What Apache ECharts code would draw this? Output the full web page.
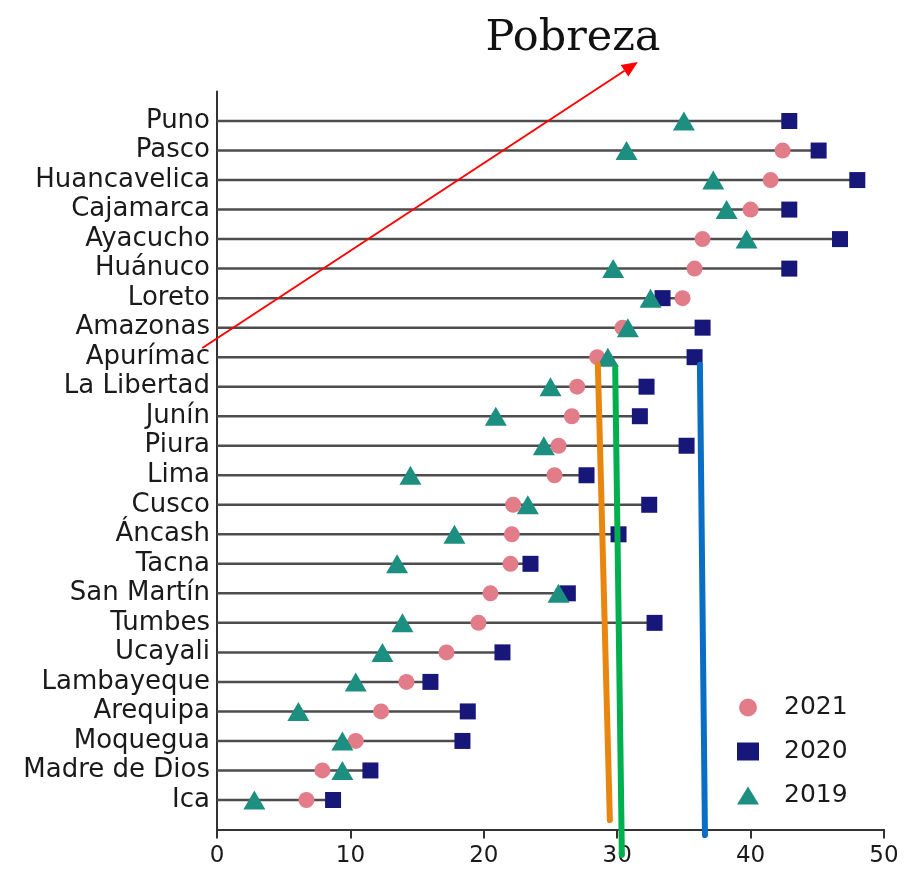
<!DOCTYPE html>
<html>
<head>
<meta charset="utf-8">
<script src="https://cdn.jsdelivr.net/npm/echarts@6/dist/echarts.min.js"></script>
<style>
  html, body { margin: 0; padding: 0; background: #fff; }
  #chart { width: 907px; height: 873px; }
</style>
</head>
<body>
<div id="chart"></div>
<script>
const regions = [
  "Puno", "Pasco", "Huancavelica", "Cajamarca", "Ayacucho", "Huánuco", "Loreto", "Amazonas",
  "Apurímac", "La Libertad", "Junín", "Piura", "Lima", "Cusco", "Áncash", "Tacna",
  "San Martín", "Tumbes", "Ucayali", "Lambayeque", "Arequipa", "Moquegua", "Madre de Dios", "Ica",
];
const pov2021 = [42.9, 42.4, 41.5, 40.0, 36.4, 35.8, 34.9, 30.4, 28.5, 27.0, 26.6, 25.6, 25.3, 22.2, 22.1, 22.0, 20.5, 19.6, 17.2, 14.2, 12.3, 10.4, 7.9, 6.7];
const pov2020 = [42.9, 45.1, 48.0, 42.9, 46.7, 42.9, 33.4, 36.4, 35.8, 32.2, 31.7, 35.2, 27.7, 32.4, 30.1, 23.5, 26.3, 32.8, 21.4, 16.0, 18.8, 18.4, 11.5, 8.7];
const pov2019 = [35.0, 30.7, 37.2, 38.2, 39.7, 29.7, 32.5, 30.8, 29.3, 25.0, 20.9, 24.5, 14.5, 23.3, 17.8, 13.5, 25.6, 13.9, 12.4, 10.4, 6.1, 9.4, 9.4, 2.8];
const xTicks = [0, 10, 20, 30, 40, 50];

// hand-drawn annotations, in data units: [x value, row position] (row 1 = Puno, 24 = Ica)
const orangeMark = [[28.55, 9.26], [29.45, 24.68]];
const greenMark = [[29.85, 9.37], [30.35, 25.86]];
const blueMark = [[36.2, 9.26], [36.58, 25.19]];
const redArrow = [[-1.1, 8.69], [31.55, -1.0]];

const chart = echarts.init(document.getElementById("chart"));
const font = "DejaVu Sans";

// pad the category axis with one empty slot above and below
const axisCats = [""].concat(regions, [" "]);
const stems = ["-"].concat(regions.map((_, i) => Math.max(pov2021[i], pov2020[i], pov2019[i])), ["-"]);
const points = (values) => values.map((v, i) => [v, i + 1]);

chart.setOption({
  animation: false,
  title: {
    text: "Pobreza",
    left: 568,
    top: 12,
    textAlign: "center",
    textStyle: { fontFamily: "DejaVu Serif", fontSize: 43, fontWeight: "normal", color: "#111" },
  },
  legend: {
    data: ["2021", "2020", "2019"],
    orient: "vertical",
    left: 732,
    top: 690,
    itemWidth: 22,
    itemHeight: 18,
    itemGap: 19,
    textStyle: { fontFamily: font, fontSize: 25, color: "#1a1a1a", padding: [0, 0, 0, 20] },
  },
  grid: { left: 217, right: 23, top: 91.5, bottom: 43.5 },
  xAxis: {
    type: "value",
    min: xTicks[0],
    max: xTicks[xTicks.length - 1],
    interval: 10,
    axisLine: { show: true, lineStyle: { color: "#333", width: 2 } },
    axisTick: { show: true, length: 9, lineStyle: { color: "#333", width: 2 } },
    axisLabel: { fontFamily: font, fontSize: 23, color: "#1a1a1a", margin: 15 },
    splitLine: { show: false },
  },
  yAxis: {
    type: "category",
    inverse: true,
    boundaryGap: false,
    data: axisCats,
    axisLine: { show: true, lineStyle: { color: "#333", width: 2 } },
    axisTick: { show: false },
    axisLabel: { fontFamily: font, fontSize: 26, color: "#1a1a1a", margin: 7, interval: 0 },
    splitLine: { show: false },
  },
  series: [
    {
      name: "stem",
      type: "bar",
      data: stems,
      barWidth: 2.5,
      itemStyle: { color: "#4d4d4d" },
      silent: true,
      z: 1,
    },
    {
      name: "2021",
      type: "scatter",
      data: points(pov2021),
      symbol: "circle",
      symbolSize: 16,
      itemStyle: { color: "#e27c88", opacity: 1 },
      z: 2,
    },
    {
      name: "2020",
      type: "scatter",
      data: points(pov2020),
      symbol: "rect",
      symbolSize: 16,
      itemStyle: { color: "#17177a", opacity: 1 },
      z: 3,
    },
    {
      name: "2019",
      type: "scatter",
      data: points(pov2019),
      symbol: "triangle",
      symbolSize: [22, 19],
      itemStyle: { color: "#1d8f80", opacity: 1 },
      z: 4,
    },
  ],
});

function toPixel([x, row]) {
  const px = chart.convertToPixel({ xAxisIndex: 0 }, x);
  const y0 = chart.convertToPixel({ yAxisIndex: 0 }, 0);
  const y1 = chart.convertToPixel({ yAxisIndex: 0 }, 1);
  return [px, y0 + row * (y1 - y0)];
}

function markLine(mark, color) {
  const [a, b] = mark.map(toPixel);
  return {
    type: "line",
    shape: { x1: a[0], y1: a[1], x2: b[0], y2: b[1] },
    style: { stroke: color, lineWidth: 6, lineCap: "round" },
    z: 100,
  };
}

const [arrowStart, arrowEnd] = redArrow.map(toPixel);
const ang = Math.atan2(arrowEnd[1] - arrowStart[1], arrowEnd[0] - arrowStart[0]);
const headLen = 16;
const headHalf = 7;
const baseX = arrowEnd[0] - headLen * Math.cos(ang);
const baseY = arrowEnd[1] - headLen * Math.sin(ang);
const head = [
  arrowEnd,
  [baseX + headHalf * Math.sin(ang), baseY - headHalf * Math.cos(ang)],
  [baseX - headHalf * Math.sin(ang), baseY + headHalf * Math.cos(ang)],
];

chart.setOption({
  graphic: [
    markLine(orangeMark, "#e8860f"),
    markLine(greenMark, "#00b04f"),
    markLine(blueMark, "#0a6fc4"),
    {
      type: "line",
      shape: { x1: arrowStart[0], y1: arrowStart[1], x2: baseX, y2: baseY },
      style: { stroke: "#ff0000", lineWidth: 2 },
      z: 100,
    },
    {
      type: "polygon",
      shape: { points: head },
      style: { fill: "#ff0000" },
      z: 100,
    },
  ],
});
</script>
</body>
</html>
